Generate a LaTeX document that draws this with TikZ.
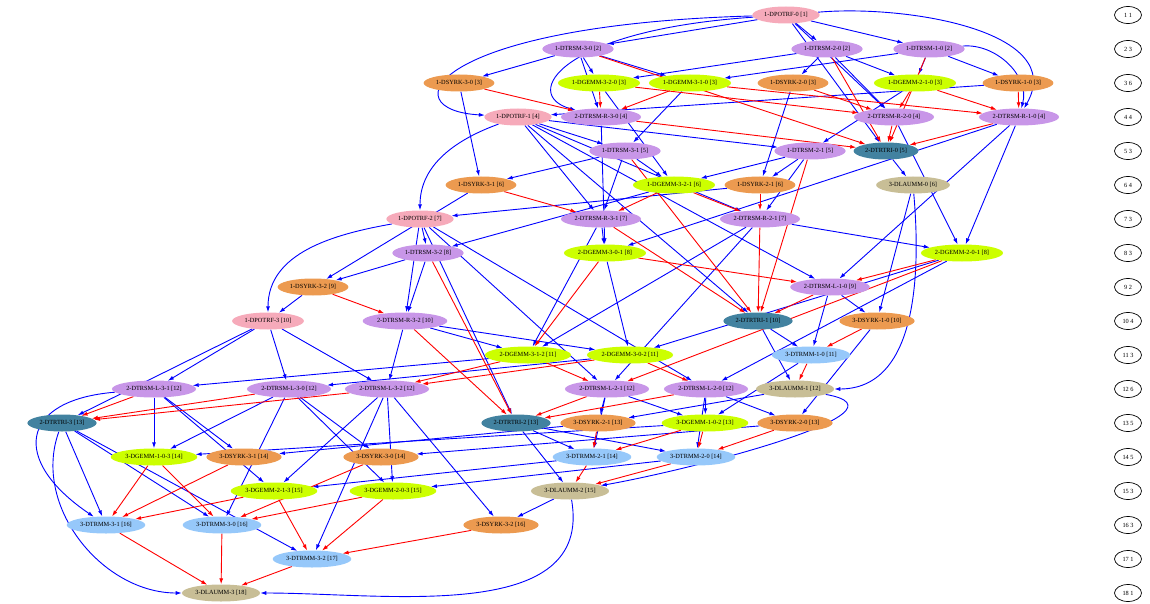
\documentclass[tikz,border=0pt]{standalone}
\usepackage{fontspec}
\setmainfont{Liberation Serif}
\usepackage{tikz}
\usetikzlibrary{positioning, arrows.meta, shapes.geometric, backgrounds}
\definecolor{PotrfColor}{RGB}{246,170,186}
\definecolor{TrsmColor}{RGB}{200,150,232}
\definecolor{SyrkColor}{RGB}{236,154,80}
\definecolor{GemmColor}{RGB}{204,255,0}
\definecolor{TrtriColor}{RGB}{66,130,160}
\definecolor{TrmmColor}{RGB}{150,200,250}
\definecolor{LauumColor}{RGB}{200,190,150}
\tikzstyle{task} = [ellipse, inner xsep=2pt, inner ysep=1pt, minimum height=17pt, font=\fontsize{6.3}{7}\selectfont]
\tikzstyle{potrf} = [task, fill=PotrfColor]
\tikzstyle{trsm} = [task, fill=TrsmColor]
\tikzstyle{syrk} = [task, fill=SyrkColor]
\tikzstyle{gemm} = [task, fill=GemmColor]
\tikzstyle{trtri} = [task, fill=TrtriColor]
\tikzstyle{trmm} = [task, fill=TrmmColor]
\tikzstyle{lauum} = [task, fill=LauumColor]
\tikzstyle{lvlnode} = [ellipse, draw, line width=0.7pt, minimum width=27pt, minimum height=17pt, inner sep=0.5pt, font=\fontsize{6.3}{7}\selectfont]
\tikzstyle{dep} = [blue, line width=0.9pt, -{Latex[length=6pt,width=4pt]}]
\tikzstyle{war} = [red, line width=0.9pt, -{Latex[length=6pt,width=4pt]}]

\begin{document}
\begin{tikzpicture}[x=1pt, y=-1pt]
      \useasboundingbox (0,0) rectangle (1150,604);

      % Cholesky factorisation
      \node[potrf] (apotrf0) at (786,15) {1-DPOTRF-0 [1]};
      \node[trsm] (atrsm30) at (578,49) {1-DTRSM-3-0 [2]};
      \node[trsm] (atrsm20) at (827,49) {1-DTRSM-2-0 [2]};
      \node[trsm] (atrsm10) at (929,49) {1-DTRSM-1-0 [2]};
      \node[syrk] (asyrk30) at (459,83) {1-DSYRK-3-0 [3]};
      \node[gemm] (agemm320) at (599,83) {1-DGEMM-3-2-0 [3]};
      \node[gemm] (agemm310) at (690,83) {1-DGEMM-3-1-0 [3]};
      \node[syrk] (asyrk20) at (793,83) {1-DSYRK-2-0 [3]};
      \node[gemm] (agemm210) at (915,83) {1-DGEMM-2-1-0 [3]};
      \node[syrk] (asyrk10) at (1018,83) {1-DSYRK-1-0 [3]};
      \node[potrf] (apotrf1) at (518,117) {1-DPOTRF-1 [4]};
      \node[trsm] (atrsm31) at (625,151) {1-DTRSM-3-1 [5]};
      \node[trsm] (atrsm21) at (810,151) {1-DTRSM-2-1 [5]};
      \node[syrk] (asyrk31) at (481,185) {1-DSYRK-3-1 [6]};
      \node[gemm] (agemm321) at (674,185) {1-DGEMM-3-2-1 [6]};
      \node[syrk] (asyrk21) at (760,185) {1-DSYRK-2-1 [6]};
      \node[potrf] (apotrf2) at (420,219) {1-DPOTRF-2 [7]};
      \node[trsm] (atrsm32) at (428,253) {1-DTRSM-3-2 [8]};
      \node[syrk] (asyrk32) at (313,287) {1-DSYRK-3-2 [9]};
      \node[potrf] (apotrf3) at (268,321) {1-DPOTRF-3 [10]};

      % Triangular inversion
      \node[trsm] (btrsmr30) at (601,117) {2-DTRSM-R-3-0 [4]};
      \node[trsm] (btrsmr20) at (894,117) {2-DTRSM-R-2-0 [4]};
      \node[trsm] (btrsmr10) at (1019,117) {2-DTRSM-R-1-0 [4]};
      \node[trtri] (btrtri0) at (886,151) {2-DTRTRI-0 [5]};
      \node[trsm] (btrsmr31) at (601,219) {2-DTRSM-R-3-1 [7]};
      \node[trsm] (btrsmr21) at (760,219) {2-DTRSM-R-2-1 [7]};
      \node[gemm] (bgemm301) at (605,253) {2-DGEMM-3-0-1 [8]};
      \node[gemm] (bgemm201) at (962,253) {2-DGEMM-2-0-1 [8]};
      \node[trsm] (btrsml10) at (830,287) {2-DTRSM-L-1-0 [9]};
      \node[trsm] (btrsmr32) at (405,321) {2-DTRSM-R-3-2 [10]};
      \node[trtri] (btrtri1) at (758,321) {2-DTRTRI-1 [10]};
      \node[gemm] (bgemm312) at (528,355) {2-DGEMM-3-1-2 [11]};
      \node[gemm] (bgemm302) at (630,355) {2-DGEMM-3-0-2 [11]};
      \node[trsm] (btrsml31) at (154,389) {2-DTRSM-L-3-1 [12]};
      \node[trsm] (btrsml30) at (289,389) {2-DTRSM-L-3-0 [12]};
      \node[trsm] (btrsml32) at (387,389) {2-DTRSM-L-3-2 [12]};
      \node[trsm] (btrsml21) at (607,389) {2-DTRSM-L-2-1 [12]};
      \node[trsm] (btrsml20) at (706,389) {2-DTRSM-L-2-0 [12]};
      \node[trtri] (btrtri3) at (62,423) {2-DTRTRI-3 [13]};
      \node[trtri] (btrtri2) at (516,423) {2-DTRTRI-2 [13]};

      % Triangular multiplication
      \node[lauum] (clauum0) at (913,185) {3-DLAUMM-0 [6]};
      \node[syrk] (csyrk10) at (877,321) {3-DSYRK-1-0 [10]};
      \node[trmm] (ctrmm10) at (811,355) {3-DTRMM-1-0 [11]};
      \node[lauum] (clauum1) at (795,389) {3-DLAUMM-1 [12]};
      \node[syrk] (csyrk21) at (598,423) {3-DSYRK-2-1 [13]};
      \node[gemm] (cgemm102) at (705,423) {3-DGEMM-1-0-2 [13]};
      \node[syrk] (csyrk20) at (795,423) {3-DSYRK-2-0 [13]};
      \node[gemm] (cgemm103) at (154,457) {3-DGEMM-1-0-3 [14]};
      \node[syrk] (csyrk31) at (244,457) {3-DSYRK-3-1 [14]};
      \node[syrk] (csyrk30) at (381,457) {3-DSYRK-3-0 [14]};
      \node[trmm] (ctrmm21) at (592,457) {3-DTRMM-2-1 [14]};
      \node[trmm] (ctrmm20) at (696,457) {3-DTRMM-2-0 [14]};
      \node[gemm] (cgemm213) at (274,491) {3-DGEMM-2-1-3 [15]};
      \node[gemm] (cgemm203) at (393,491) {3-DGEMM-2-0-3 [15]};
      \node[lauum] (clauum2) at (570,491) {3-DLAUMM-2 [15]};
      \node[trmm] (ctrmm31) at (106,525) {3-DTRMM-3-1 [16]};
      \node[trmm] (ctrmm30) at (222,525) {3-DTRMM-3-0 [16]};
      \node[syrk] (csyrk32) at (501,525) {3-DSYRK-3-2 [16]};
      \node[trmm] (ctrmm32) at (312,559) {3-DTRMM-3-2 [17]};
      \node[lauum] (clauum3) at (221,593) {3-DLAUMM-3 [18]};

      % Level counts
      \foreach \i/\n in {1/1,2/3,3/6,4/4,5/3,6/4,7/3,8/3,9/2,10/4,11/3,12/6,13/5,14/5,15/3,16/3,17/1,18/1}
        \node[lvlnode] (lv\i) at (1128,{15+34*(\i-1)}) {\i\ \n};

      \begin{scope}[on background layer]
      % Dependencies
      \foreach \s/\t in {apotrf0/atrsm30, apotrf0/atrsm20, apotrf0/atrsm10,
          atrsm30/asyrk30, atrsm30/agemm320, atrsm30/agemm310,
          atrsm20/asyrk20, atrsm20/agemm320, atrsm20/agemm210,
          atrsm10/asyrk10, atrsm10/agemm310, atrsm10/agemm210,
          asyrk10/apotrf1, agemm210/atrsm21, agemm310/atrsm31, asyrk20/asyrk21,
          asyrk30/asyrk31, agemm320/agemm321, apotrf1/atrsm21, apotrf1/atrsm31,
          atrsm21/asyrk21, atrsm21/agemm321, atrsm31/asyrk31, atrsm31/agemm321,
          asyrk21/apotrf2, apotrf2/atrsm32, agemm321/atrsm32, atrsm32/asyrk32,
          asyrk31/asyrk32, asyrk32/apotrf3}
        \draw[dep] (\s) -- (\t);
      \foreach \s/\t in {apotrf0/btrsmr20, atrsm30/btrsmr30,
          atrsm20/btrsmr20, apotrf0/btrtri0, apotrf1/btrsmr21, atrsm21/btrsmr21,
          apotrf1/btrsmr31, atrsm31/btrsmr31, btrsmr21/bgemm201, btrsmr10/bgemm201,
          btrsmr20/bgemm201, btrsmr31/bgemm301, btrsmr10/bgemm301, btrsmr30/bgemm301,
          apotrf1/btrsml10, btrsmr10/btrsml10, apotrf1/btrtri1, apotrf2/btrsmr32,
          atrsm32/btrsmr32, btrsmr32/bgemm302, bgemm201/bgemm302, bgemm301/bgemm302,
          btrsmr32/bgemm312, btrsmr21/bgemm312, btrsmr31/bgemm312, apotrf2/btrsml20,
          bgemm201/btrsml20, apotrf2/btrsml21, btrsmr21/btrsml21, apotrf2/btrtri2,
          apotrf3/btrsml30, bgemm302/btrsml30, apotrf3/btrsml31, bgemm312/btrsml31,
          apotrf3/btrsml32, btrsmr32/btrsml32, apotrf3/btrtri3}
        \draw[dep] (\s) -- (\t);
      \foreach \s/\t in {btrtri0/clauum0, btrsml10/csyrk10, clauum0/csyrk10,
          btrtri1/ctrmm10, btrsml10/ctrmm10, btrtri1/clauum1, btrsml20/csyrk20,
          csyrk10/csyrk20, btrsml21/cgemm102, btrsml20/cgemm102, ctrmm10/cgemm102,
          btrsml21/csyrk21, clauum1/csyrk21, btrtri2/ctrmm20, btrsml20/ctrmm20,
          btrtri2/ctrmm21, btrsml21/ctrmm21, btrtri2/clauum2, btrsml30/csyrk30,
          csyrk20/csyrk30, btrsml31/cgemm103, btrsml30/cgemm103, cgemm102/cgemm103,
          btrsml32/cgemm203, btrsml30/cgemm203, ctrmm20/cgemm203, btrsml31/csyrk31,
          csyrk21/csyrk31, btrsml32/cgemm213, btrsml31/cgemm213, ctrmm21/cgemm213,
          btrsml32/csyrk32, clauum2/csyrk32, btrtri3/ctrmm30, btrsml30/ctrmm30,
          btrtri3/ctrmm31, btrtri3/ctrmm32, btrsml32/ctrmm32}
        \draw[dep] (\s) -- (\t);

      % Long dependencies
      \draw[dep] (apotrf0) .. controls (430,25) and (390,110) .. (apotrf1);
      \draw[dep] (apotrf0) .. controls (560,30) and (520,95) .. (btrsmr30);
      \draw[dep] (apotrf1) to[out=200, in=90] (apotrf2);
      \draw[dep] (apotrf2) to[out=190, in=90] (apotrf3);
      \draw[dep] (apotrf0) to[out=5, in=60] (btrsmr10);
      \draw[dep] (atrsm10) to[out=5, in=75] (btrsmr10);
      \draw[dep] (clauum0) to[out=-85, in=0] (clauum1);
      \draw[dep] (clauum1) to[out=-10, in=10] (clauum2);
      \draw[dep] (clauum2) to[out=-80, in=0] (clauum3);
      \draw[dep] (btrtri3) to[out=-110, in=180] (clauum3);
      \draw[dep] (btrsml31) .. controls (20,400) and (10,460) .. (ctrmm31);

      % Anti-dependencies
      \foreach \s/\t in {asyrk10/btrsmr10, agemm210/btrsmr10, agemm310/btrsmr10,
          asyrk20/btrsmr20, agemm210/btrsmr20, agemm320/btrsmr20,
          asyrk30/btrsmr30, agemm310/btrsmr30, agemm320/btrsmr30,
          atrsm10/btrtri0, atrsm20/btrtri0, atrsm30/btrtri0, btrsmr10/btrtri0,
          btrsmr20/btrtri0, btrsmr30/btrtri0, asyrk21/btrsmr21, agemm321/btrsmr21,
          asyrk31/btrsmr31, agemm321/btrsmr31, bgemm201/btrsml10, bgemm301/btrsml10,
          atrsm21/btrtri1, atrsm31/btrtri1, btrsmr21/btrtri1, btrsmr31/btrtri1,
          btrsml10/btrtri1, asyrk32/btrsmr32, bgemm301/bgemm312, bgemm302/btrsml20,
          bgemm201/btrsml21, bgemm312/btrsml21, atrsm32/btrtri2, btrsmr32/btrtri2,
          btrsml20/btrtri2, btrsml21/btrtri2, bgemm302/btrsml32, bgemm312/btrsml32,
          btrsml30/btrtri3, btrsml31/btrtri3, btrsml32/btrtri3,
          csyrk10/ctrmm10, ctrmm10/clauum1, csyrk20/ctrmm20, cgemm102/ctrmm20,
          csyrk21/ctrmm21, cgemm102/ctrmm21, ctrmm20/clauum2, ctrmm21/clauum2,
          csyrk30/ctrmm30, cgemm103/ctrmm30, cgemm203/ctrmm30, cgemm103/ctrmm31,
          csyrk31/ctrmm31, cgemm213/ctrmm31, cgemm203/ctrmm32, cgemm213/ctrmm32,
          csyrk32/ctrmm32, ctrmm30/clauum3, ctrmm31/clauum3, ctrmm32/clauum3}
        \draw[war] (\s) -- (\t);
      \end{scope}
\end{tikzpicture}
\end{document}
